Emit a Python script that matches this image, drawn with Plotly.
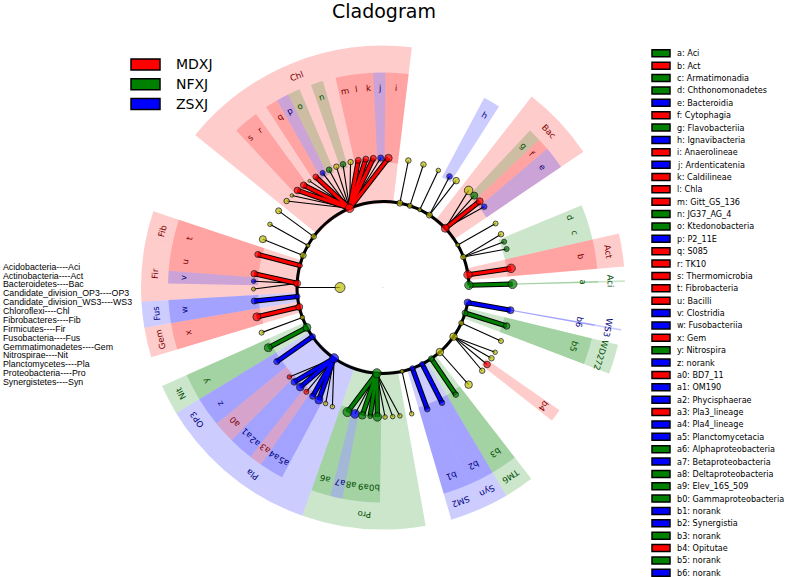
import numpy as np
import plotly.graph_objects as go

# ---------------- data ----------------
groups = ["MDXJ", "NFXJ", "ZSXJ"]
group_fill = {"MDXJ": (255, 0, 0), "NFXJ": (0, 128, 0), "ZSXJ": (0, 0, 255)}
group_text = {"MDXJ": "#7a0000", "NFXJ": "#004d00", "ZSXJ": "#00007a"}
NS_COLOR = "#c0c000"

# phylum-level clades, in angular (counter-clockwise) order
phylum_ids = ["Aci", "Act", "Arm", "u1", "Bac", "Ign", "u2", "u3", "u4", "Chl",
              "u5", "u6", "u7", "Fib", "Fir", "Fus", "Gem", "u8", "Nit", "OP3",
              "Pla", "Pro", "u9", "SM2", "Syn", "TM6", "u10", "Ver", "u11", "WD272", "WS3"]
phylum_group = ["NFXJ", "MDXJ", "", "", "MDXJ", "", "", "", "", "MDXJ",
                "", "", "", "MDXJ", "MDXJ", "ZSXJ", "MDXJ", "", "NFXJ", "ZSXJ",
                "ZSXJ", "NFXJ", "", "ZSXJ", "ZSXJ", "NFXJ", "", "", "", "NFXJ", "ZSXJ"]
phylum_size = [9.5, 9.5, 6.5, 5, 9, 7, 5, 6, 7, 9.5,
               6.5, 5, 7, 6, 8, 6, 8, 5.5, 9, 7,
               10, 10, 5, 6, 6, 6.5, 8.5, 8.5, 6, 7, 8]
phylum_nleaves = [1, 1, 3, 1, 4, 2, 1, 1, 1, 16,
                  1, 1, 1, 1, 3, 1, 1, 1, 1, 1,
                  8, 8, 1, 1, 1, 1, 1, 4, 1, 1, 1]

# class-level nodes (leaves), angle in degrees counter-clockwise from east
leaf_theta = [1.5, 8.5, 17.3, 20.7, 24.3, 29.6, 38.6, 41.7, 45.2, 48.6, 55.6, 59.1, 64.7, 71.8, 78.7,
              87.6, 91.0, 94.3, 97.6, 101.0, 104.5, 108.0, 111.1, 114.6, 117.8, 121.3, 124.6, 127.8, 131.4, 134.7, 138.1,
              143.7, 150.8, 158.1, 165.2, 173.9, 177.2, 180.7, 186.0, 193.1, 200.4, 207.7, 214.9,
              223.7, 226.8, 230.3, 233.7, 237.1, 240.3, 243.7, 247.0,
              254.1, 257.5, 260.8, 264.3, 267.5, 270.9, 274.3, 277.5,
              282.8, 290.0, 297.1, 304.2, 311.4, 320.0, 323.5, 326.9, 330.0, 335.6, 342.7, 349.9]
leaf_size = [10, 9.5, 6, 6, 6.5, 6, 6.5, 8, 8, 9.5, 7.5, 6.5, 5.5, 6.5, 6.5,
             8.5, 7, 7, 7, 7, 6.5, 6.5, 6.5, 6.5, 6, 6.5, 4, 7.5, 7.5, 4.5, 6.5,
             7, 5.5, 8, 7, 7.5, 5.5, 5, 7, 9, 6, 9, 7,
             5.5, 7.5, 8.5, 6, 7, 9, 5.5, 5.5,
             10, 9.5, 8.5, 5.5, 9.5, 5.5, 5.5, 5.5,
             5.5, 6.5, 6.5, 6.5, 8.5, 6.5, 7.5, 6.5, 5.5, 6, 7.5, 8]
leaf_group = ["NFXJ", "MDXJ", "NFXJ", "NFXJ", "", "", "ZSXJ", "MDXJ", "NFXJ", "", "", "ZSXJ", "", "", "",
              "MDXJ", "ZSXJ", "MDXJ", "MDXJ", "MDXJ", "", "NFXJ", "", "NFXJ", "ZSXJ", "MDXJ", "", "MDXJ", "MDXJ", "", "",
              "", "", "", "MDXJ", "MDXJ", "ZSXJ", "", "ZSXJ", "MDXJ", "", "NFXJ", "ZSXJ",
              "MDXJ", "ZSXJ", "ZSXJ", "MDXJ", "ZSXJ", "ZSXJ", "", "",
              "NFXJ", "ZSXJ", "NFXJ", "NFXJ", "NFXJ", "", "", "",
              "", "ZSXJ", "ZSXJ", "NFXJ", "", "", "MDXJ", "", "", "", "NFXJ", "ZSXJ"]
leaf_label = ["a", "b", "c", "d", "", "", "e", "f", "g", "", "", "h", "", "", "",
              "i", "j", "k", "l", "m", "", "n", "", "o", "p", "q", "", "r", "s", "", "",
              "", "", "", "t", "u", "v", "", "w", "x", "", "y", "z",
              "a0", "a1", "a2", "a3", "a4", "a5", "", "",
              "a6", "a7", "a8", "a9", "b0", "", "", "",
              "", "b1", "b2", "b3", "", "", "b4", "", "", "", "b5", "b6"]

class_names = ["Aci", "Act", "Armatimonadia", "Chthonomonadetes", "Bacteroidia", "Cytophagia",
               "Flavobacteriia", "Ignavibacteria", "Anaerolineae", "Ardenticatenia", "Caldilineae",
               "Chla", "Gitt_GS_136", "JG37_AG_4", "Ktedonobacteria", "P2_11E", "S085", "TK10",
               "Thermomicrobia", "Fibrobacteria", "Bacilli", "Clostridia", "Fusobacteriia", "Gem",
               "Nitrospira", "norank", "BD7_11", "OM190", "Phycisphaerae", "Pla3_lineage",
               "Pla4_lineage", "Planctomycetacia", "Alphaproteobacteria", "Betaproteobacteria",
               "Deltaproteobacteria", "Elev_16S_509", "Gammaproteobacteria", "norank", "Synergistia",
               "norank", "Opitutae", "norank", "norank"]

phylum_fullnames = ["Acidobacteria", "Actinobacteria", "Bacteroidetes", "Candidate_division_OP3",
                    "Candidate_division_WS3", "Chloroflexi", "Fibrobacteres", "Firmicutes",
                    "Fusobacteria", "Gemmatimonadetes", "Nitrospirae", "Planctomycetes",
                    "Proteobacteria", "Synergistetes"]
phylum_abbrevs = ["Aci", "Act", "Bac", "OP3", "WS3", "Chl", "Fib", "Fir", "Fus", "Gem",
                  "Nit", "Pla", "Pro", "Syn"]

kingdom_theta = 180.0
kingdom_size = 11

# ---------------- geometry (pixels) ----------------
W, H = 787, 577
CX, CY = 383.0, 287.5
RMAX = 250.0
R_KING, R_PHY, R_CLS = 43.0, 86.0, 129.5
R_PHY_IN, R_PHY_OUT = 84.0, 242.0
R_CLS_IN, R_CLS_OUT = 125.0, 215.0
R_CLS_LAB, R_PHY_LAB = 200.0, 228.0
THIN = 0.45


def rgba(g, a):
    c = group_fill[g]
    return "rgba(%d,%d,%d,%.2f)" % (c[0], c[1], c[2], a)


def paper(r, th):
    t = np.deg2rad(th)
    return (CX + r * np.cos(t)) / W, 1 - (CY - r * np.sin(t)) / H


def tangle(th):
    a = 90 - th
    while a > 180:
        a -= 360
    while a <= -180:
        a += 360
    return a


n = len(leaf_theta)
# wedge limits: half-way to the neighbouring leaves; the two ends of the ring collapse to a line
lo = [(leaf_theta[i - 1] + leaf_theta[i]) / 2 if i > 0 else leaf_theta[i] for i in range(n)]
hi = [(leaf_theta[i] + leaf_theta[i + 1]) / 2 if i < n - 1 else leaf_theta[i] for i in range(n)]
hi[0] = leaf_theta[0]
lo[-1] = leaf_theta[-1]

leaf_phylum = []
for pi, k in enumerate(phylum_nleaves):
    leaf_phylum += [pi] * k
phylum_theta = [float(np.mean([leaf_theta[i] for i in range(n) if leaf_phylum[i] == pi]))
                for pi in range(len(phylum_ids))]

fig = go.Figure()

# ---- highlight wedges ----
wt, ww, wb, wr, wc = [], [], [], [], []
annots = []
for pi, pid in enumerate(phylum_ids):
    g = phylum_group[pi]
    if not g:
        continue
    idx = [i for i in range(n) if leaf_phylum[i] == pi]
    a0, a1 = lo[idx[0]], hi[idx[-1]]
    width = max(a1 - a0, THIN)
    wt.append((a0 + a1) / 2); ww.append(width); wb.append(R_PHY_IN); wr.append(R_PHY_OUT - R_PHY_IN)
    wc.append(rgba(g, 0.2))
    px, py = paper(R_PHY_LAB, (a0 + a1) / 2)
    annots.append(dict(x=px, y=py, text=pid, textangle=tangle((a0 + a1) / 2),
                       font=dict(color=group_text[g], size=8.5)))
for i in range(n):
    g = leaf_group[i]
    if not g:
        continue
    width = max(hi[i] - lo[i], THIN)
    c = (lo[i] + hi[i]) / 2
    wt.append(c); ww.append(width); wb.append(R_CLS_IN); wr.append(R_CLS_OUT - R_CLS_IN)
    wc.append(rgba(g, 0.2))
    px, py = paper(R_CLS_LAB, c)
    annots.append(dict(x=px, y=py, text=leaf_label[i], textangle=tangle(c),
                       font=dict(color=group_text[g], size=8.5)))

fig.add_trace(go.Barpolar(theta=wt, width=ww, base=wb, r=wr,
                          marker=dict(color=wc, line=dict(width=0)), hoverinfo="skip"))

# ---- thick arc connecting phyla ----
fig.add_trace(go.Barpolar(theta=[(phylum_theta[0] + phylum_theta[-1]) / 2],
                          width=[phylum_theta[-1] - phylum_theta[0]],
                          base=[R_PHY - 1.5], r=[3.0],
                          marker=dict(color="black", line=dict(width=0)), hoverinfo="skip"))

# ---- edges ----
thin_r, thin_t = [R_KING, R_PHY, None], [kingdom_theta, kingdom_theta, None]
thick = {g: ([], []) for g in groups}
for i in range(n):
    pi = leaf_phylum[i]
    seg_r = [R_PHY, R_CLS, None]
    seg_t = [phylum_theta[pi], leaf_theta[i], None]
    g = leaf_group[i]
    if g and g == phylum_group[pi]:
        thick[g][0].extend(seg_r); thick[g][1].extend(seg_t)
    else:
        thin_r.extend(seg_r); thin_t.extend(seg_t)

fig.add_trace(go.Scatterpolar(r=thin_r, theta=thin_t, mode="lines",
                              line=dict(color="black", width=1.1), hoverinfo="skip"))
for g in groups:
    rr, tt = thick[g]
    fig.add_trace(go.Scatterpolar(r=rr, theta=tt, mode="lines",
                                  line=dict(color="black", width=5.2), hoverinfo="skip"))
    col = "rgb(%d,%d,%d)" % group_fill[g]
    fig.add_trace(go.Scatterpolar(r=rr, theta=tt, mode="lines",
                                  line=dict(color=col, width=3.2), hoverinfo="skip"))

# ---- nodes ----
node_r = [0.0, R_KING] + [R_PHY] * len(phylum_ids) + [R_CLS] * n
node_t = [0.0, kingdom_theta] + phylum_theta + leaf_theta
node_s = [2, kingdom_size] + phylum_size + leaf_size
node_g = ["", ""] + phylum_group + leaf_group
node_c = ["rgb(%d,%d,%d)" % group_fill[g] if g else NS_COLOR for g in node_g]
node_c[0] = "#a0b050"
node_lw = [0] + [1] * (len(node_r) - 1)
fig.add_trace(go.Scatterpolar(r=node_r, theta=node_t, mode="markers",
                              marker=dict(size=[s - 1 for s in node_s], color=node_c,
                                          line=dict(color="black", width=node_lw)),
                              hoverinfo="skip"))

# ---- text & legends ----
for a in annots:
    a.update(xref="paper", yref="paper", showarrow=False, xanchor="center", yanchor="middle")
    a["font"]["family"] = "DejaVu Sans"
    fig.add_annotation(**a)

fig.add_annotation(x=384 / W, y=1 - 11 / H, xref="paper", yref="paper", text="Cladogram",
                   showarrow=False, xanchor="center", yanchor="middle",
                   font=dict(family="DejaVu Sans", size=19, color="black"))

shapes = []
for k, g in enumerate(groups):
    yc = 64.5 + k * 19.8
    shapes.append(dict(type="rect", xref="paper", yref="paper",
                       x0=131 / W, x1=160 / W, y0=1 - (yc + 5.5) / H, y1=1 - (yc - 5.5) / H,
                       fillcolor="rgb(%d,%d,%d)" % group_fill[g], line=dict(color="black", width=1.5)))
    fig.add_annotation(x=174 / W, y=1 - yc / H, xref="paper", yref="paper", text=g, showarrow=False,
                       xanchor="left", yanchor="middle",
                       font=dict(family="DejaVu Sans", size=14, color="black"))

labelled = [i for i in range(n) if leaf_label[i]]
for k, i in enumerate(labelled):
    yc = 53.3 + k * 12.37
    g = leaf_group[i]
    shapes.append(dict(type="rect", xref="paper", yref="paper",
                       x0=652 / W, x1=670 / W, y0=1 - (yc + 3.5) / H, y1=1 - (yc - 3.5) / H,
                       fillcolor="rgb(%d,%d,%d)" % group_fill[g], line=dict(color="black", width=1.5)))
    fig.add_annotation(x=675 / W, y=1 - yc / H, xref="paper", yref="paper",
                       text="%s: %s" % (leaf_label[i], class_names[k]), showarrow=False,
                       xanchor="left", yanchor="middle",
                       font=dict(family="DejaVu Sans", size=8.1, color="black"))

for k, (full, ab) in enumerate(zip(phylum_fullnames, phylum_abbrevs)):
    yc = 266.7 + k * 8.87
    fig.add_annotation(x=1 / W, y=1 - yc / H, xref="paper", yref="paper",
                       text="%s----%s" % (full, ab), showarrow=False,
                       xanchor="left", yanchor="middle",
                       font=dict(family="Liberation Sans", size=8.8, color="black"))

fig.update_layout(
    width=W, height=H, margin=dict(l=0, r=0, t=0, b=0),
    paper_bgcolor="white", plot_bgcolor="white", showlegend=False,
    shapes=shapes,
    polar=dict(
        domain=dict(x=[(CX - RMAX) / W, (CX + RMAX) / W], y=[1 - (CY + RMAX) / H, 1 - (CY - RMAX) / H]),
        bgcolor="rgba(0,0,0,0)",
        radialaxis=dict(range=[0, RMAX], visible=False, showgrid=False),
        angularaxis=dict(visible=False, showgrid=False, direction="counterclockwise", rotation=0),
        barmode="overlay",
    ),
)

fig.write_html("out.html", config={"displayModeBar": False},
               post_script="document.body.style.margin='0px';")
